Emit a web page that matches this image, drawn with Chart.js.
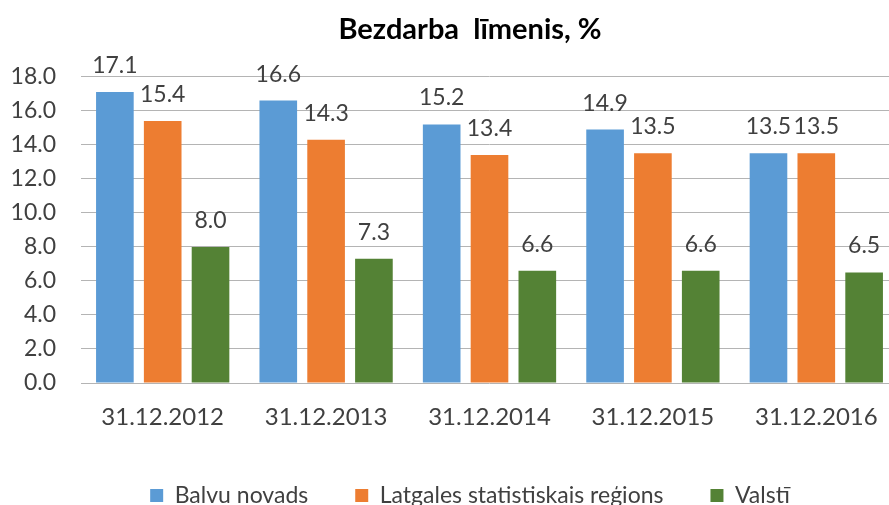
<!DOCTYPE html>
<html>
<head>
<meta charset="utf-8">
<script src="https://cdn.jsdelivr.net/npm/chart.js@4"></script>
<style>
  html, body { margin: 0; padding: 0; background: #fff; overflow: hidden; }
  #wrap { width: 889px; height: 505px; overflow: hidden; }
</style>
</head>
<body>
<div id="wrap"><canvas id="chart" width="940" height="517"></canvas></div>
<script>
// ===================== DATA =====================
const categories = ['31.12.2012', '31.12.2013', '31.12.2014', '31.12.2015', '31.12.2016'];
const balvu = [17.1, 16.6, 15.2, 14.9, 13.5];
const latgale = [15.4, 14.3, 13.4, 13.5, 13.5];
const valsti = [8.0, 7.3, 6.6, 6.6, 6.5];
const seriesNames = ['Balvu novads', 'Latgales statistiskais reģions', 'Valstī'];
const yTicks = [0, 2, 4, 6, 8, 10, 12, 14, 16, 18];

const textColor = '#404040';
const gridColor = '#b4b4b4';

// ===================== LABELS ON BARS =====================
const barLabels = {
  id: 'barLabels',
  afterDatasetsDraw(chart) {
    const ctx = chart.ctx;
    ctx.save();
    ctx.font = '23px Lato';
    ctx.fillStyle = textColor;
    ctx.textAlign = 'center';
    ctx.textBaseline = 'alphabetic';
    chart.data.datasets.forEach((ds, i) => {
      chart.getDatasetMeta(i).data.forEach((bar, j) => {
        ctx.fillText(ds.data[j].toFixed(1), bar.x, bar.y - 19);
      });
    });
    ctx.restore();
  }
};

// ===================== CHART =====================
new Chart(document.getElementById('chart'), {
  type: 'bar',
  data: {
    labels: categories,
    datasets: [
      { label: seriesNames[0], data: balvu, backgroundColor: '#5b9bd5' },
      { label: seriesNames[1], data: latgale, backgroundColor: '#ed7d31' },
      { label: seriesNames[2], data: valsti, backgroundColor: '#548235' },
    ],
  },
  options: {
    responsive: false,
    animation: false,
    datasets: { bar: { categoryPercentage: 0.878, barPercentage: 0.787 } },
    layout: { padding: 0 },
    plugins: {
      title: {
        display: true,
        text: 'Bezdarba  līmenis, %',
        color: '#000',
        font: { family: 'Lato', size: 29, weight: 'bold' },
        padding: { top: 12, bottom: 30 },
      },
      legend: {
        position: 'bottom',
        labels: {
          color: textColor,
          font: { family: 'Lato', size: 23 },
          boxWidth: 13,
          boxHeight: 13,
          padding: 47,
        },
      },
      tooltip: { enabled: false },
    },
    scales: {
      x: {
        grid: { display: false },
        border: { display: false },
        ticks: { color: textColor, font: { family: 'Lato', size: 24 }, padding: 12 },
        afterFit(s) { s.height = 54; },
      },
      y: {
        min: 0,
        max: 18,
        afterBuildTicks(s) { s.ticks = yTicks.map(v => ({ value: v })); },
        grid: { color: gridColor, lineWidth: 1, drawTicks: false },
        border: { display: false },
        ticks: {
          color: textColor,
          font: { family: 'Lato', size: 23 },
          padding: 25,
          callback: v => v.toFixed(1),
        },
        afterFit(s) { s.width = 81; },
      },
      yRight: {
        position: 'right',
        display: true,
        grid: { display: false },
        border: { display: false },
        ticks: { display: false },
        afterFit(s) { s.width = 42; },
      },
    },
  },
  plugins: [barLabels],
});
</script>
</body>
</html>
